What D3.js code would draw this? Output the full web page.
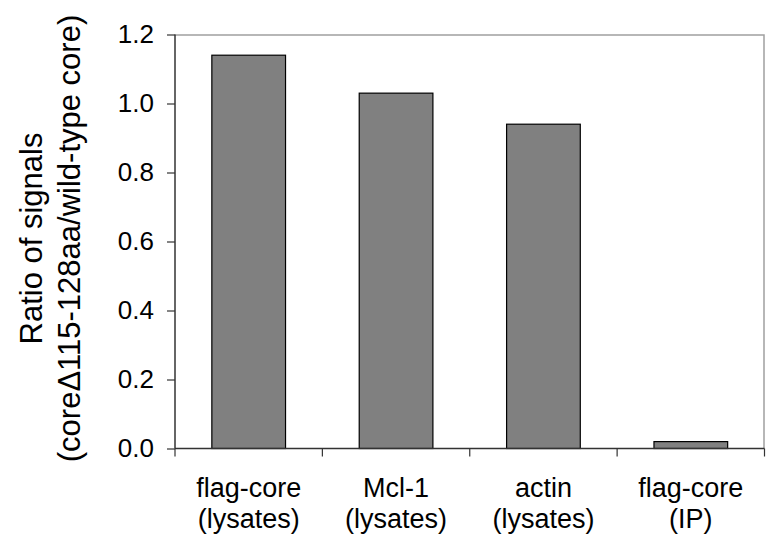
<!DOCTYPE html>
<html>
<head>
<meta charset="utf-8">
<script src="https://cdn.jsdelivr.net/npm/d3@7"></script>
<style>
  body { margin: 0; background: #fff; }
  text { font-family: "Liberation Sans", Arial, sans-serif; fill: #000; }
</style>
</head>
<body>
<div id="app"></div>
<script>
const categories = ["flag-core|(lysates)", "Mcl-1|(lysates)", "actin|(lysates)", "flag-core|(IP)"];
const values = [1.14, 1.03, 0.94, 0.02];
const yTicks = [0, 0.2, 0.4, 0.6, 0.8, 1.0, 1.2];
const titleLines = ["Ratio of signals", "(core\u0394115-128aa/wild-type core)"];

const w = 767;
const h = 542;
const margin = { top: 34.5, right: 2.5, bottom: 93.5, left: 175 };
const iw = w - margin.left - margin.right;
const ih = h - margin.top - margin.bottom;

const svg = d3.select("#app")
  .append("svg")
  .attr("width", w)
  .attr("height", h);

const g = svg.append("g")
  .attr("transform", "translate(" + margin.left + "," + margin.top + ")");

const x = d3.scaleBand()
  .domain(categories)
  .range([0, iw])
  .paddingInner(0.5)
  .paddingOuter(0.25);

const y = d3.scaleLinear()
  .domain([0, 1.2])
  .range([ih, 0]);

// plot area border (top and right, light grey)
g.append("path")
  .attr("d", "M0,0.5H" + (iw - 0.5) + "V" + ih)
  .attr("fill", "none")
  .attr("stroke", "#a0a0a0")
  .attr("stroke-width", 1.5);

g.selectAll("rect.bar")
  .data(values)
  .enter()
  .append("rect")
  .attr("class", "bar")
  .attr("x", function (d, i) { return x(categories[i]); })
  .attr("y", function (d) { return y(d); })
  .attr("width", x.bandwidth())
  .attr("height", function (d) { return ih - y(d); })
  .attr("fill", "#808080")
  .attr("stroke", "#000")
  .attr("stroke-width", 1.2);

// y axis
const yAxis = g.append("g")
  .call(d3.axisLeft(y).tickValues(yTicks).tickFormat(d3.format(".1f")).tickSize(8).tickPadding(13));
yAxis.select(".domain").attr("stroke", "#333").attr("stroke-width", 1.5).attr("d", "M0,0V" + ih);
yAxis.selectAll(".tick line").attr("stroke", "#333").attr("stroke-width", 1.2);
yAxis.selectAll(".tick text")
  .attr("font-size", "26px")
  .attr("font-family", "Liberation Sans, Arial, sans-serif")
  .attr("fill", "#000");

// x axis: ticks at category boundaries
const step = x.step();
const bounds = d3.range(categories.length + 1).map(function (i) { return i * step; });
const xAxis = g.append("g").attr("transform", "translate(0," + ih + ")");
xAxis.append("line")
  .attr("x1", 0).attr("x2", iw)
  .attr("stroke", "#333").attr("stroke-width", 1.5);
xAxis.selectAll("line.tk")
  .data(bounds)
  .enter()
  .append("line")
  .attr("class", "tk")
  .attr("x1", function (d) { return d; })
  .attr("x2", function (d) { return d; })
  .attr("y1", 0).attr("y2", 8)
  .attr("stroke", "#333").attr("stroke-width", 1.2);

const labels = xAxis.selectAll("text.lbl")
  .data(categories)
  .enter()
  .append("text")
  .attr("class", "lbl")
  .attr("text-anchor", "middle")
  .attr("font-size", "27px")
  .attr("transform", function (d) { return "translate(" + (x(d) + x.bandwidth() / 2) + ",0)"; });
labels.selectAll("tspan")
  .data(function (d) { return d.split("|"); })
  .enter()
  .append("tspan")
  .attr("x", 0)
  .attr("y", function (d, i) { return 48 + i * 31.5; })
  .text(function (d) { return d; });

// y title
const title = svg.append("text")
  .attr("text-anchor", "middle")
  .attr("font-size", "31px")
  .attr("transform", "translate(0," + (margin.top + ih / 2 - 3) + ") rotate(-90)");
title.selectAll("tspan")
  .data(titleLines)
  .enter()
  .append("tspan")
  .attr("x", 0)
  .attr("y", function (d, i) { return 42 + i * 38; })
  .text(function (d) { return d; });
</script>
</body>
</html>
